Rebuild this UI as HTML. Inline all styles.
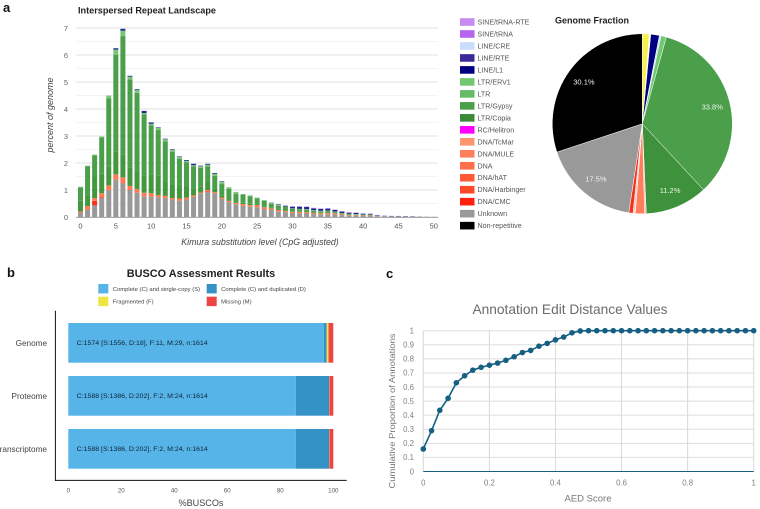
<!DOCTYPE html>
<html>
<head>
<meta charset="utf-8">
<style>
html,body{margin:0;padding:0;background:#fff;}
svg{display:block;font-family:"Liberation Sans",sans-serif;filter:blur(0.35px);}
</style>
</head>
<body>
<svg id="fig" width="760" height="509" viewBox="0 0 760 509" xmlns="http://www.w3.org/2000/svg">
  <rect width="760" height="509" fill="#fff"/>
  <text x="3" y="12" font-size="13" font-weight="bold" fill="#111">a</text>
  <text x="7" y="277" font-size="13" font-weight="bold" fill="#111">b</text>
  <text x="386" y="278" font-size="13" font-weight="bold" fill="#111">c</text>

  <g id="landscape">
    <text x="78" y="13.5" font-size="9.5" font-weight="bold" fill="#222" textLength="138" lengthAdjust="spacingAndGlyphs">Interspersed Repeat Landscape</text>
    <text x="260" y="245" font-size="8.8" font-style="italic" fill="#444" text-anchor="middle">Kimura substitution level (CpG adjusted)</text>
    <text transform="translate(53,115) rotate(-90)" font-size="9" font-style="italic" fill="#444" text-anchor="middle">percent of genome</text>
  </g>
  <g id="legend-a"></g>
  <g id="pie">
    <text x="555" y="23.5" font-size="9" font-weight="bold" fill="#222">Genome Fraction</text>
  </g>

  <g id="busco">
    <text x="201" y="277" font-size="10.9" font-weight="bold" fill="#222" text-anchor="middle">BUSCO Assessment Results</text>
    <text x="201" y="506" font-size="9.1" fill="#444" text-anchor="middle">%BUSCOs</text>
  </g>

  <g id="aed">
    <text x="570" y="314" font-size="14" fill="#6b6b6b" text-anchor="middle" textLength="195" lengthAdjust="spacingAndGlyphs">Annotation Edit Distance Values</text>
    <text x="588" y="501.5" font-size="9.5" fill="#777" text-anchor="middle">AED Score</text>
    <text transform="translate(395,411) rotate(-90)" font-size="8.7" fill="#777" text-anchor="middle" textLength="155" lengthAdjust="spacingAndGlyphs">Cumulative Proportion of Annotations</text>
  </g>
</svg>
<script>
// ---- Panel a: repeat landscape data (percent of genome per Kimura bin) ----
const kimuraBins = [0,1,2,3,4,5,6,7,8,9,10,11,12,13,14,15,16,17,18,19,20,21,22,23,24,25,26,27,28,29,30,31,32,33,34,35,36,37,38,39,40,41,42,43,44,45,46,47,48,49,50];
const kimuraTicks = [0,5,10,15,20,25,30,35,40,45,50];
const percentTicks = [0,1,2,3,4,5,6,7];
const unknownValues = [.15,.27,.43,.7,1,1.38,1.25,1,.9,.77,.75,.73,.7,.65,.6,.65,.75,.88,.92,.87,.67,.55,.47,.42,.38,.36,.28,.26,.21,.18,.15,.14,.13,.11,.1,.1,.09,.07,.06,.05,.04,.04,.03,.03,.02,.02,.02,.015,.01,.01,.005];
const dnaCmcValues = [0,.01,.17,.03,0,0,.02,0,0,0,0,0,0,0,0,0,0,0,.03,0,0,0,0,0,0,0,0,0,0,0,0,0,0,0,0,0,0,0,0,0,0,0,0,0,0,0,0,0,0,0,0];
const dnaValues = [.05,.12,.1,.15,.17,.2,.2,.15,.13,.13,.13,.08,.08,.05,.08,.07,.05,.03,.05,.05,.05,.05,.05,.06,.06,.08,.08,.06,.05,.04,.04,.05,.05,.04,.04,.05,.04,.03,.02,.02,.02,.02,.01,.005,.005,.005,0,0,0,0,0];
const copiaValues = [.42,.4,.8,.72,.71,.84,.83,.68,.67,.62,.7,.74,.55,.52,.45,.41,.27,.21,.33,.15,.08,0,.03,.05,.05,.05,.04,.04,.04,.03,.02,.02,.02,.02,.02,.02,.01,.01,.01,.01,.01,.01,0,0,0,0,0,0,0,0,0];
const gypsyValues = [.48,1.07,.78,1.35,2.52,3.58,4.4,3.27,2.9,2.28,1.82,1.67,1.47,1.2,1.02,.9,.81,.7,.55,.46,.42,.45,.3,.3,.28,.2,.2,.13,.12,.12,.09,.07,.07,.06,.05,.05,.04,.03,.02,.02,.01,.01,0,0,0,0,0,0,0,0,0];
const ltrValues = [.02,.03,.03,.03,.1,.2,.2,.1,.1,.05,.05,.08,.08,.07,.07,.05,.04,.06,.06,.07,.08,.05,.08,.02,.03,.03,.03,.03,.03,.02,.02,.02,.02,.02,.02,.02,.02,.01,.01,.01,.01,.01,0,0,0,0,0,0,0,0,0];
const lineL1Values = [0,0,0,0,0,.05,.07,.03,.03,.08,.05,.02,.02,.02,.02,.03,.05,.02,.03,.03,.02,0,0,0,0,0,0,.01,.02,.03,.06,.08,.08,.07,.07,.07,.06,.05,.04,.04,.03,.03,.02,.01,.01,.01,.01,.01,.005,0,0];
const sineValues = [0,0,0,0,0,0,0,0,0,0,0,0,0,0,0,0,0,0,0,0,0,0,0,0,0,0,0,0,0,.01,.02,.02,.02,.02,.02,.02,.02,.02,.02,.02,.02,.01,.01,.01,.01,.005,.005,.005,0,0,0];
const stackNames = ['unknown','dna-cmc','dna','ltr-copia','ltr-gypsy','ltr','line-l1','sine'];
const stackColors = ['#999999','#f5301c','#ff7a55','#43983f','#4b9f4a','#7cc47c','#1a2a8a','#c58bf0'];
const stackSeries = [unknownValues,dnaCmcValues,dnaValues,copiaValues,gypsyValues,ltrValues,lineL1Values,sineValues];

// ---- Panel a: legend and pie ----
const legendLabels = ['SINE/tRNA-RTE','SINE/tRNA','LINE/CRE','LINE/RTE','LINE/L1','LTR/ERV1','LTR','LTR/Gypsy','LTR/Copia','RC/Helitron','DNA/TcMar','DNA/MULE','DNA','DNA/hAT','DNA/Harbinger','DNA/CMC','Unknown','Non-repetitive'];
const legendColors = ['#c58bf0','#b565ee','#c9dcfb','#3a2a9a','#000080','#72c872','#66bb66','#4b9f4a','#3a8a38','#ff00ff','#ff9470','#ff7f5c','#ff6f4a','#ff5a38','#ff4a2a','#ff2010','#999999','#000000'];
const pieNames = ['sine','gap','line-l1','line-cre','ltr','ltr-gypsy','ltr-copia','dna-tcmar','dna-mule','dna-pale','dna-cmc','unknown','non-repetitive'];
const pieValues = [1.25,.25,1.55,.3,.95,33.8,11.2,.3,1.65,.4,.75,17.5,30.1];
const pieColors = ['#f5f04a','#ffffff','#000080','#c9dcfb','#72c872','#4b9f4a','#3f923c','#ffb5a5','#ff7f5c','#ffc9bd','#f5301c','#999999','#000000'];
const pieLabelValues = ['33.8%','11.2%','17.5%','30.1%'];
const pieLabelIndex = [5,6,11,12];

// ---- Panel b: BUSCO counts ----
const buscoCategories = ['Genome','Proteome','Transcriptome'];
const buscoSingle = [1556,1386,1386];
const buscoDuplicated = [18,202,202];
const buscoFragmented = [11,2,2];
const buscoMissing = [29,24,24];
const buscoTotal = [1614,1614,1614];
const buscoAnnotations = ['C:1574 [S:1556, D:18], F:11, M:29, n:1614','C:1588 [S:1386, D:202], F:2, M:24, n:1614','C:1588 [S:1386, D:202], F:2, M:24, n:1614'];
const buscoTicks = [0,20,40,60,80,100];
const buscoLegend = ['Complete (C) and single-copy (S)','Complete (C) and duplicated (D)','Fragmented (F)','Missing (M)'];
const buscoColors = ['#56B4E9','#3492C7','#F0E442','#F04442'];

// ---- Panel c: AED cumulative curve ----
const aedScores = [0,.025,.05,.075,.1,.125,.15,.175,.2,.225,.25,.275,.3,.325,.35,.375,.4,.425,.45,.475,.5,.525,.55,.575,.6,.625,.65,.675,.7,.725,.75,.775,.8,.825,.85,.875,.9,.925,.95,.975,1];
const aedCumulative = [.16,.29,.435,.52,.63,.68,.72,.74,.755,.77,.79,.815,.845,.86,.89,.91,.935,.955,.985,.998,1,1,1,1,1,1,1,1,1,1,1,1,1,1,1,1,1,1,1,1,1];
const aedYTicks = [0,.1,.2,.3,.4,.5,.6,.7,.8,.9,1];
const aedXTicks = [0,.2,.4,.6,.8,1];

const NS = 'http://www.w3.org/2000/svg';
function mk(parent, tag, attrs, text){
  const el = document.createElementNS(NS, tag);
  for (const k in attrs) el.setAttribute(k, attrs[k]);
  if (text !== undefined) el.textContent = text;
  parent.appendChild(el);
  return el;
}

// Panel a bars
const gA = document.getElementById('landscape');
const xA = v => 80.5 + v * 7.066;
const yA = v => 217 - v * 27;
for (let t = 0; t <= 7; t += 0.5) {
  const l = mk(gA, 'line', {x1:76, x2:438, y1:yA(t), y2:yA(t), stroke: t % 1 === 0 ? '#e2e2e2' : '#f3f3f3', 'stroke-width':0.9});
  
  
}
percentTicks.forEach(t => {
  const n = mk(gA, 'text', {x:66, y:yA(t)+2.8, 'font-size':7.5, fill:'#666', 'text-anchor':'middle'}, t);
  
  
});
kimuraTicks.forEach(t => {
  const n = mk(gA, 'text', {x:xA(t), y:228.5, 'font-size':7.5, fill:'#555', 'text-anchor':'middle'}, t);
  
  
});
kimuraBins.forEach((b, i) => {
  let base = 0;
  stackSeries.forEach((series, s) => {
    const v = series[i];
    if (v > 0) {
      const r = mk(gA, 'rect', {x:xA(b)-2.5, y:yA(base+v), width:5, height:Math.max(v*27,0.1), fill:stackColors[s]});
      
      
      base += v;
    }
  });
});
const baseA = mk(gA, 'line', {x1:76, x2:438, y1:217.3, y2:217.3, stroke:'#777', 'stroke-width':0.7});



// Legend
const gL = document.getElementById('legend-a');
legendLabels.forEach((lab, i) => {
  const cy = 22 + i * 11.98;
  const sw = mk(gL, 'rect', {x:460, y:cy-3.8, width:14.5, height:7.6, fill:legendColors[i]});
  
  
  const tx = mk(gL, 'text', {x:477.5, y:cy+2.5, 'font-size':7.1, fill:'#555'}, lab);
  
  
});

// Pie
const gP = document.getElementById('pie');
const cxP = 642.3, cyP = 123.8, rP = 90;
const pieSum = pieValues.reduce((a, b) => a + b, 0);
let cum = 0;
const labelAngles = {};
pieValues.forEach((v, i) => {
  const a0 = cum / pieSum * 2 * Math.PI;
  cum += v;
  const a1 = cum / pieSum * 2 * Math.PI;
  labelAngles[i] = (a0 + a1) / 2;
  const d = 'M' + cxP + ' ' + cyP + 'L' + (cxP + rP*Math.sin(a0)) + ' ' + (cyP - rP*Math.cos(a0)) +
    'A' + rP + ' ' + rP + ' 0 ' + (a1 - a0 > Math.PI ? 1 : 0) + ' 1 ' + (cxP + rP*Math.sin(a1)) + ' ' + (cyP - rP*Math.cos(a1)) + 'Z';
  const p = mk(gP, 'path', {d:d, fill:pieColors[i], stroke:'#fff', 'stroke-width':0.5});
  
  
});
pieLabelValues.forEach((lab, k) => {
  const a = labelAngles[pieLabelIndex[k]];
  const rr = rP * 0.8;
  const t = mk(gP, 'text', {x:cxP + rr*Math.sin(a), y:cyP - rr*Math.cos(a) + 2.6, 'font-size':7.5, fill:'#f0f0f0', 'text-anchor':'middle'}, lab);
  
  
});

// Panel b
const gB = document.getElementById('busco');
const xB = v => 68.3 + v * 2.65;
const bandTop = [323, 376, 429];
buscoLegend.forEach((lab, i) => {
  const lx = i % 2 === 0 ? 98.3 : 206.7;
  const ly = i < 2 ? 284 : 296.7;
  const s = mk(gB, 'rect', {x:lx, y:ly, width:10, height:9.4, fill:buscoColors[i]});
  
  
  const t = mk(gB, 'text', {x:lx+14.4, y:ly+6.9, 'font-size':5.9, fill:'#444'}, lab);
  
  
});
buscoCategories.forEach((cat, i) => {
  const parts = [buscoSingle[i], buscoDuplicated[i], buscoFragmented[i], buscoMissing[i]];
  let acc = 0;
  parts.forEach((c, j) => {
    const pct = c / buscoTotal[i] * 100;
    const r = mk(gB, 'rect', {x:xB(acc), y:bandTop[i], width:pct*2.65, height:39.7, fill:buscoColors[j]});
    
    
    acc += pct;
  });
  const note = mk(gB, 'text', {x:76.7, y:bandTop[i]+22, 'font-size':6.2, fill:'#123', textLength:131, lengthAdjust:'spacingAndGlyphs'}, buscoAnnotations[i]);
  
  
  const lab = mk(gB, 'text', {x:47, y:bandTop[i]+23, 'font-size':8.2, fill:'#444', 'text-anchor':'end'}, cat);
  
  
});
const axY = mk(gB, 'line', {x1:55.4, x2:55.4, y1:310.7, y2:481, stroke:'#111', 'stroke-width':1});


const axX = mk(gB, 'line', {x1:55, x2:346.7, y1:480.4, y2:480.4, stroke:'#111', 'stroke-width':1});


buscoTicks.forEach(t => {
  const n = mk(gB, 'text', {x:xB(t), y:492.5, 'font-size':6.2, fill:'#555', 'text-anchor':'middle'}, t);
  
  
});

// Panel c
const gC = document.getElementById('aed');
const xC = v => 423.3 + v * 330.4;
const yC = v => 471.5 - v * 140.8;
aedYTicks.forEach(t => {
  if (t > 0) {
    const l = mk(gC, 'line', {x1:xC(0), x2:xC(1), y1:yC(t), y2:yC(t), stroke:'#dedede', 'stroke-width':1});
    
    
  }
  const n = mk(gC, 'text', {x:414, y:yC(t)+2.8, 'font-size':7.8, fill:'#808080', 'text-anchor':'end'}, String(t));
  
  
});
aedXTicks.forEach(t => {
  if (t > 0) {
    const l = mk(gC, 'line', {x1:xC(t), x2:xC(t), y1:yC(0), y2:yC(1), stroke:'#d8d8d8', 'stroke-width':1});
    
    
  }
  const n = mk(gC, 'text', {x:xC(t), y:485.5, 'font-size':7.8, fill:'#808080', 'text-anchor':'middle'}, String(t));
  
  
});
const lft = mk(gC, 'line', {x1:xC(0), x2:xC(0), y1:yC(0), y2:yC(1), stroke:'#d8d8d8', 'stroke-width':1});


const axC = mk(gC, 'line', {x1:xC(0), x2:xC(1), y1:yC(0), y2:yC(0), stroke:'#156082', 'stroke-width':0.9});


const aedLine = mk(gC, 'polyline', {points:aedScores.map((s, i) => xC(s) + ',' + yC(aedCumulative[i])).join(' '), fill:'none', stroke:'#156082', 'stroke-width':1.6});


aedScores.forEach((s, i) => {
  const c = mk(gC, 'circle', {cx:xC(s), cy:yC(aedCumulative[i]), r:2.8, fill:'#156082'});
  
  
});
</script>
</body>
</html>
